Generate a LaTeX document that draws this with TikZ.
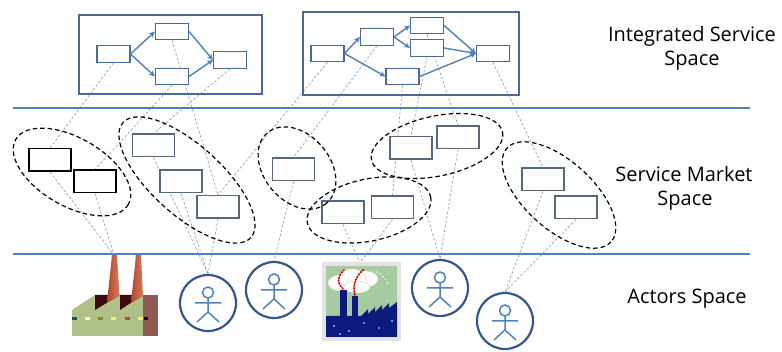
\documentclass[tikz,border=0pt]{standalone}
\usepackage{fontspec}
\setmainfont{Open Sans}
\usetikzlibrary{arrows.meta,backgrounds}
\definecolor{rulecol}{HTML}{4F81BD}
\definecolor{framecol}{HTML}{4A6A96}
\definecolor{boxcol}{HTML}{56687F}
\definecolor{linkcol}{HTML}{8C9AB4}
\definecolor{ringcol}{HTML}{35578A}
\definecolor{stickcol}{HTML}{4F81BD}
\definecolor{plantgreen}{HTML}{AFC189}
\definecolor{plantdark}{HTML}{3B0A0C}
\definecolor{plantbrown}{HTML}{8E5A52}
\definecolor{stackred}{HTML}{B5452F}
\definecolor{stacklight}{HTML}{D27A62}
\definecolor{navy}{HTML}{0C1A7D}
\definecolor{paleground}{HTML}{A6CBA0}
\definecolor{winA}{HTML}{1F4E5A}
\definecolor{winB}{HTML}{EFEFD2}
\definecolor{winC}{HTML}{7A8A20}
\definecolor{winD}{HTML}{F0F070}
\definecolor{winE}{HTML}{B05030}
\definecolor{winF}{HTML}{200000}
\begin{document}
\begin{tikzpicture}[x=1pt,y=-1pt,
  flowbox/.style={draw=framecol, line width=1.1pt, fill=white, minimum width=33pt, minimum height=16.5pt, inner sep=0pt},
  outerbox/.style={draw=framecol, line width=1.2pt, inner sep=0pt},
  svcbox/.style={draw=boxcol, line width=1.5pt, fill=white, minimum width=42pt, minimum height=22.5pt, inner sep=0pt},
  rawbox/.style={svcbox, draw=black},
  flow/.style={draw=rulecol, line width=1.4pt, -{Stealth[length=6pt,width=5.5pt]}},
  linkline/.style={draw=linkcol, line width=0.65pt, dash pattern=on 2.5pt off 2pt},
  group/.style={draw=black, line width=1.2pt, dash pattern=on 4.5pt off 3pt},
  spacerule/.style={draw=rulecol, line width=2pt},
  actor/.style={circle, draw=ringcol, line width=2.2pt, minimum size=56pt, inner sep=0pt},
  label/.style={font=\fontsize{20pt}{24pt}\selectfont, anchor=base, inner sep=0pt},
  stickman/.pic={
    \draw[stickcol, line width=1.5pt] (0,-10.5) circle (5.5pt);
    \draw[stickcol, line width=1.5pt] (-13,0) -- (13,0) (0,-5) -- (0,9) (-11,19) -- (0,9) -- (11,19);
  }]
\useasboundingbox (0,0) rectangle (782,352);

% ---- space separators
\coordinate (r1a) at (13,108); \coordinate (r1b) at (750,108);
\coordinate (r2a) at (13,254); \coordinate (r2b) at (750,254);
\draw[spacerule] (r1a) -- (r1b);
\draw[spacerule] (r2a) -- (r2b);

% ---- integrated service compositions
\node[outerbox, minimum width=183pt, minimum height=79pt] (W1) at (170.5,54.5) {};
\node[outerbox, minimum width=216pt, minimum height=83pt] (W2) at (411,53.5) {};

\node[flowbox] (A1) at (113.5,54) {};
\node[flowbox] (A2) at (172,31.5) {};
\node[flowbox] (A3) at (172,76.5) {};
\node[flowbox] (A4) at (230,60) {};

\node[flowbox] (B1) at (327.5,53.5) {};
\node[flowbox] (B2) at (377,37) {};
\node[flowbox] (B3) at (427,25.5) {};
\node[flowbox] (B4) at (427,48) {};
\node[flowbox] (B5) at (402.5,76.5) {};
\node[flowbox] (B6) at (493,53.5) {};

% ---- market services
\node[rawbox] (C1) at (50,160) {};
\node[rawbox] (C2) at (95,181.5) {};
\node[svcbox] (C3) at (153.5,145.5) {};
\node[svcbox] (C4) at (181,181.5) {};
\node[svcbox] (C5) at (218,207) {};
\node[svcbox] (C6) at (293.5,169.5) {};
\node[svcbox] (C7) at (343,212.5) {};
\node[svcbox] (C8) at (392.5,207.5) {};
\node[svcbox] (C9) at (411,148) {};
\node[svcbox] (C10) at (458,137.5) {};
\node[svcbox] (C11) at (543,179.5) {};
\node[svcbox] (C12) at (576,207.5) {};

% ---- actors
\node[actor] (P1) at (208,303) {};
\node[actor] (P2) at (274,290) {};
\node[actor] (P3) at (440,288) {};
\node[actor] (P4) at (505,321) {};
\pic at (P1) {stickman};
\pic at (P2) {stickman};
\pic at (P3) {stickman};
\pic at (P4) {stickman};
\coordinate (F1) at (114,255);
\coordinate (F2) at (360,263);

% factory with two stacks
\fill[plantgreen] (72,336) -- (72,310) -- (95,295) -- (95,310) -- (120,295) -- (120,310) -- (143,295) -- (143,336) -- cycle;
\fill[plantdark] (95,295) -- (120,295) -- (95,310) -- cycle;
\fill[plantdark] (120,295) -- (143,295) -- (120,310) -- cycle;
\shade[left color=stackred, right color=stacklight] (112,255) -- (117,255) -- (119.5,295.5) -- (107,302.8) -- cycle;
\shade[left color=stackred, right color=stacklight] (136,255) -- (141,255) -- (143,296) -- (131,303) -- cycle;
\fill[plantbrown] (143,295) rectangle (158,336);
\fill[winA] (72,317) rectangle (77,320.5);
\fill[winB] (85,317) rectangle (90,320.5);
\fill[winC] (98,317) rectangle (103,320.5);
\fill[winD] (111,317) rectangle (116,320.5);
\fill[winE] (125,317) rectangle (130,320.5);
\fill[winD] (138,317) rectangle (143,320.5);
\fill[winF] (144,317) rectangle (148,320.5);

% smoking plant picture
\fill[gray!22] (322,262) rectangle (401,341);
\fill[paleground] (326,266) rectangle (397,337);
\begin{scope}[fill=white, draw=gray!35, line width=0.4pt]
  \filldraw (340,283) ellipse [x radius=12, y radius=8];
  \filldraw (366,279) ellipse [x radius=12, y radius=8];
  \filldraw (352,278) ellipse [x radius=14, y radius=9];
  \filldraw (357,287) ellipse [x radius=13, y radius=6];
\end{scope}
\foreach \p in {(377,272),(380,274),(383,276.5),(385.5,279.5),(387.5,283)}
  \fill[white] \p circle (0.9pt);
\fill[navy] (340,290) rectangle (347,318);
\fill[navy] (352,296) rectangle (358,318);
\fill[navy] (326,337) -- (326,316) -- (361,316) -- (368,309) -- (368,314) -- (375,307) -- (375,312) -- (382,305) -- (382,310) -- (389,303) -- (389,308) -- (397,302) -- (397,337) -- cycle;
\foreach \p in {(334,326),(349,331),(364,323),(379,328),(392,321),(340,334)}
  \fill[white] \p circle (0.8pt);
\draw[red!85!black, line width=1.6pt, dash pattern=on 1.3pt off 1.7pt, line cap=round]
  (343,289) .. controls (336,282) and (338,276) .. (344,270);
\draw[red!85!black, line width=1.6pt, dash pattern=on 1.3pt off 1.7pt, line cap=round]
  (355,295) .. controls (352,285) and (356,276) .. (364,269);

% ---- links between layers, kept beneath the boxes
\begin{scope}[on background layer]
\draw[linkline] (A1.south) -- (C1.north);
\draw[linkline] (A2.south) -- (C5.north);
\draw[linkline] (A3.south) -- (C2.north);
\draw[linkline] (A4.south) -- (C3.north);
\draw[linkline] (B1.south) -- (C5.north);
\draw[linkline] (B2.south) -- (C6.north);
\draw[linkline] (B3.south) -- (C10.north);
\draw[linkline] (B4.south) -- (C9.north);
\draw[linkline] (B5.south) -- (C8.north);
\draw[linkline] (B6.south) -- (C11.north);

\draw[linkline] (C1.south) -- (F1);
\draw[linkline] (C2.south) -- (F1);
\draw[linkline] (C3.south) -- (P1.north);
\draw[linkline] (C4.south) -- (P1.north);
\draw[linkline] (C5.south) -- (P1.north);
\draw[linkline] (C6.south) -- (P2.north);
\draw[linkline] (C7.south) -- (F2);
\draw[linkline] (C8.south) -- (F2);
\draw[linkline] (C9.south) -- (P3.north);
\draw[linkline] (C10.south) -- (P3.north);
\draw[linkline] (C11.south) -- (P4.north);
\draw[linkline] (C12.south) -- (P4.north);
\end{scope}

% ---- composition flows
\draw[flow] (A1.east) -- (A2.west);
\draw[flow] (A1.east) -- (A3.west);
\draw[flow] (A2.east) -- (A4.west);
\draw[flow] (A3.east) -- (A4.west);
\draw[flow] (B1.east) -- (B2.west);
\draw[flow] (B1.east) -- (B5.west);
\draw[flow] (B2.east) -- (B3.west);
\draw[flow] (B2.east) -- (B4.west);
\draw[flow] (B3.east) -- (B6.west);
\draw[flow] (B4.east) -- (B6.west);
\draw[flow] (B5.east) -- (B6.west);

% ---- service groupings in the market
\draw[group, rotate around={-30:(72,172)}] (72,172) ellipse [x radius=65, y radius=34];
\draw[group, rotate around={-42:(187,180)}] (187,180) ellipse [x radius=86, y radius=35];
\draw[group, rotate around={-50:(297,168)}] (297,168) ellipse [x radius=46, y radius=33];
\draw[group, rotate around={12:(369,210)}] (369,210) ellipse [x radius=63, y radius=31];
\draw[group, rotate around={12:(437,146)}] (437,146) ellipse [x radius=67, y radius=30];
\draw[group, rotate around={-42:(559,195)}] (559,195) ellipse [x radius=70, y radius=34];

% ---- layer names
\node[label] (t1) at (692,41.5) {Integrated Service};
\node[label] (t2) at (692,65.5) {Space};
\node[label] (t3) at (684,182) {Service Market};
\node[label] (t4) at (685,206) {Space};
\node[label] (t5) at (687,304) {Actors Space};
\end{tikzpicture}
\end{document}
